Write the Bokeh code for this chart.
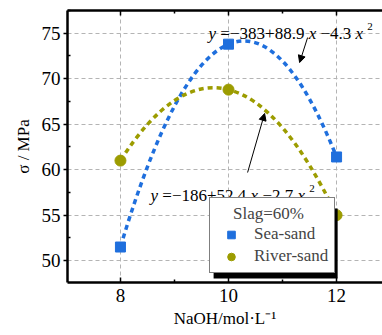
import numpy as np
from bokeh.plotting import figure
from bokeh.models import (Range1d, LinearAxis, Label, Arrow, NormalHead, Legend, LegendItem,
                          BoxAnnotation, FixedTicker)
from bokeh.embed import file_html
from bokeh.resources import INLINE

# ---- data ----
naoh = [8, 10, 12]
sea_sand = [51.5, 73.8, 61.4]
river_sand = [61.0, 68.8, 55.0]
x_ticks = [8, 10, 12]
x_minor = [7, 9, 11, 13]
y_ticks = [50, 55, 60, 65, 70, 75]
y_minor = [47.5, 52.5, 57.5, 62.5, 67.5, 72.5, 77.5]
eq_sea = "−383+88.9"
eq_sea2 = "−4.3"
eq_river = "−186+52.4"
eq_river2 = "−2.7"

BLUE = "#1f6fdd"
OLIVE = "#9c9c00"
FONT = "Liberation Serif"

p = figure(width=382, height=335, output_backend="svg", toolbar_location=None,
           x_range=Range1d(7.02, 12.85), y_range=Range1d(47.6, 77.5),
           min_border_left=67, min_border_right=0, min_border_top=10, min_border_bottom=53,
           x_axis_label="NaOH/mol·L⁻¹", y_axis_label="σ / MPa")
p.outline_line_color = None
p.background_fill_color = "white"

# axes styling
for ax, ticks, minor in ((p.xaxis[0], x_ticks, x_minor), (p.yaxis[0], y_ticks, y_minor)):
    ax.ticker = FixedTicker(ticks=ticks, minor_ticks=minor)
    ax.axis_line_width = 2.5
    ax.axis_line_color = "black"
    ax.major_label_text_font = FONT
    ax.major_label_text_font_size = "19px"
    ax.major_label_text_color = "black"
    ax.axis_label_text_font = FONT
    ax.axis_label_text_font_style = "normal"
    ax.axis_label_text_font_size = "17px"
    ax.axis_label_text_color = "black"
    ax.major_tick_line_width = 1.5
    ax.minor_tick_line_width = 1.5

p.xaxis.major_tick_in = 5
p.xaxis.major_tick_out = 0
p.xaxis.minor_tick_in = 3
p.xaxis.minor_tick_out = 0
p.xaxis.major_label_standoff = 6
p.xaxis.axis_label_standoff = 4

p.yaxis.major_tick_in = 0
p.yaxis.major_tick_out = 4
p.yaxis.minor_tick_in = 3
p.yaxis.minor_tick_out = 0
p.yaxis.major_label_standoff = 3
p.yaxis.axis_label_standoff = 6

top = LinearAxis(ticker=FixedTicker(ticks=x_ticks, minor_ticks=x_minor),
                 major_label_text_font_size="1px", major_label_text_color=None,
                 major_label_standoff=0,
                 major_tick_in=5, major_tick_out=0,
                 minor_tick_in=3, minor_tick_out=0, axis_line_width=2.5,
                 major_tick_line_width=1.5, minor_tick_line_width=1.5)
p.add_layout(top, "above")

# grid
p.xgrid.ticker = FixedTicker(ticks=x_ticks)
p.ygrid.ticker = FixedTicker(ticks=y_ticks)
for g in (p.xgrid[0], p.ygrid[0]):
    g.grid_line_color = "#b4b4b4"
    g.grid_line_dash = "4 3"
    g.grid_line_width = 1

# fitted parabolas drawn as exact quadratic Bezier curves through the three points
def parabola(ys, color):
    cy = 2 * ys[1] - (ys[0] + ys[2]) / 2.0
    p.quadratic(x0=[naoh[0]], y0=[ys[0]], x1=[naoh[2]], y1=[ys[2]], cx=[naoh[1]], cy=[cy],
                line_color=color, line_width=3.5, line_dash="5 4")

parabola(sea_sand, BLUE)
parabola(river_sand, OLIVE)

r_sea = p.scatter(naoh, sea_sand, marker="square", size=10, color=BLUE)
r_river = p.scatter(naoh, river_sand, marker="circle", size=11, color=OLIVE)

# equations
W = {" ": .25, "=": .564, "−": .564, "+": .564, ".": .25, "x": .444, "y": .444}
def width(s, F):
    return sum(W.get(c, .5) for c in s) * F

def equation(x, y, c1, c2, F=17):
    pieces = [("y", "italic", 0, F), (None, None, 0, .25 * F), ("=" + c1, "normal", 0, F),
              (None, None, 0, .25 * F), ("x", "italic", 0, F), (None, None, 0, .25 * F),
              (c2, "normal", 0, F), (None, None, 0, .25 * F), ("x", "italic", 0, F),
              (None, None, 0, .25 * F), ("2", "normal", 7, 11)]
    off = 0.0
    for txt, style, dy, size in pieces:
        if txt is None:
            off += size
            continue
        p.add_layout(Label(x=x, y=y, x_offset=off, y_offset=dy, text=txt, text_font=FONT,
                           text_font_style=style, text_font_size=f"{size}px",
                           text_baseline="alphabetic", text_color="black"))
        off += width(txt, size)

equation(9.631, 74.97, eq_sea, eq_sea2)
equation(8.557, 57.16, eq_river, eq_river2)

# arrows
p.add_layout(Arrow(x_start=11.464, y_start=74.53, x_end=11.316, y_end=71.78,
                   line_width=1, line_color="black",
                   end=NormalHead(size=7, fill_color="black", line_color="black")))
p.add_layout(Arrow(x_start=10.353, y_start=59.69, x_end=10.668, y_end=66.18,
                   line_width=1, line_color="black",
                   end=NormalHead(size=7, fill_color="black", line_color="black")))

# legend shadow
p.add_layout(BoxAnnotation(left=9.724, right=12.02, top=55.74, bottom=48.04,
                           fill_color="black", fill_alpha=1, line_color=None, level="annotation"))

legend = Legend(items=[LegendItem(label="Sea-sand", renderers=[r_sea]),
                       LegendItem(label="River-sand", renderers=[r_river])],
                location=(142, 9), title="\u00a0\u00a0\u00a0\u00a0Slag=60%",
                label_text_font=FONT, label_text_font_size="17px",
                title_text_font=FONT, title_text_font_size="17px", title_text_font_style="normal",
                border_line_color="black", border_line_width=1,
                background_fill_color="white", background_fill_alpha=1,
                glyph_width=30, glyph_height=19, label_height=19, spacing=2,
                padding=6, label_standoff=8, title_standoff=0, margin=0)
p.add_layout(legend, "center")

open("out.html", "w").write(file_html(p, INLINE))
